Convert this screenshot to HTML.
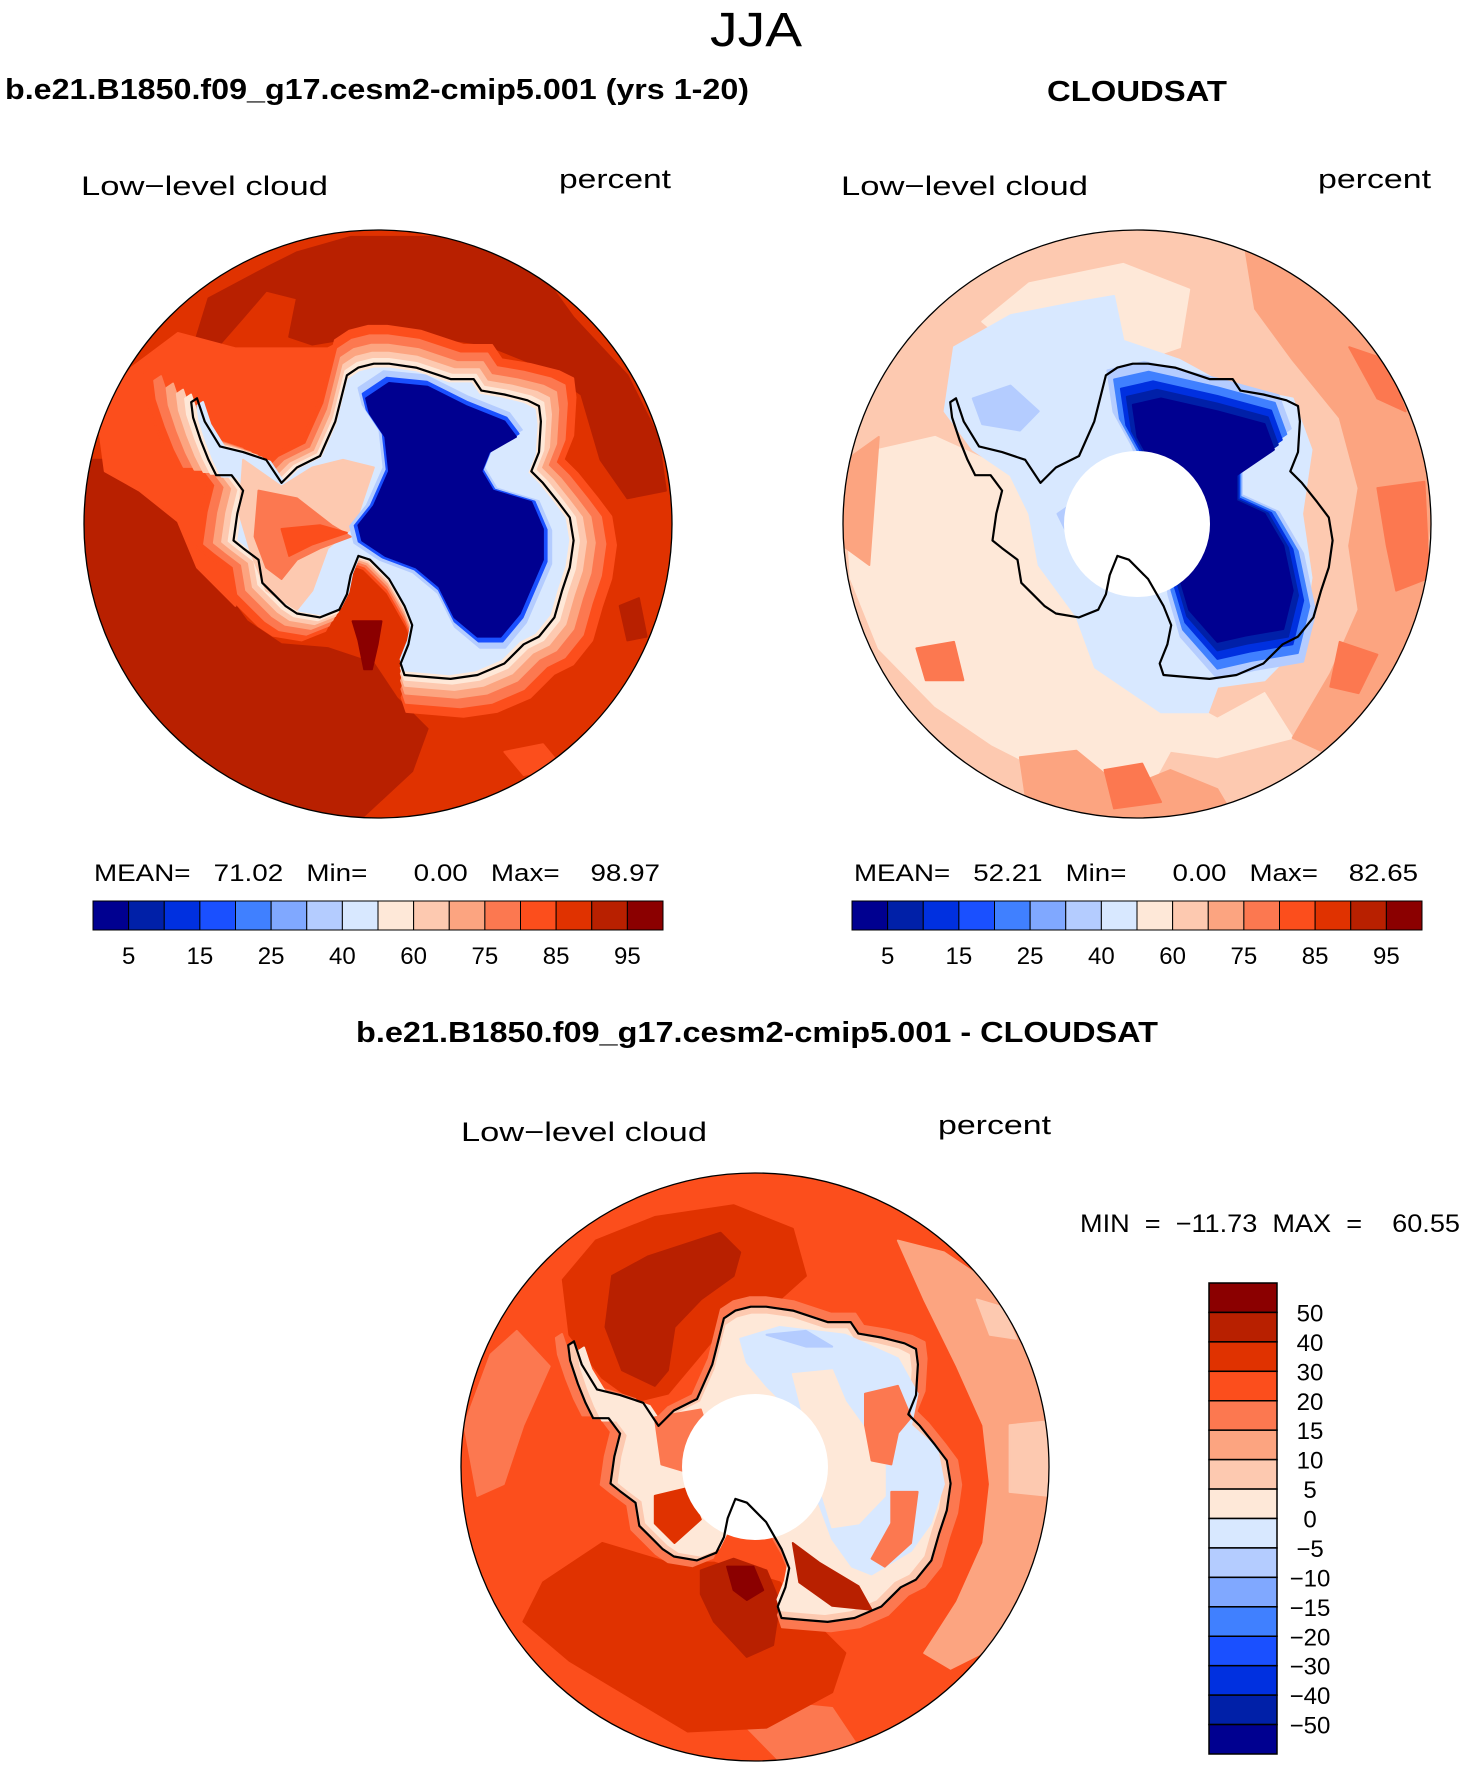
<!DOCTYPE html>
<html><head><meta charset="utf-8">
<style>
html,body{margin:0;padding:0;background:#fff;}
svg{display:block;}
text{font-family:"Liberation Sans",sans-serif;fill:#000;white-space:pre;}
</style></head>
<body>
<svg id="fig" width="1460" height="1765" viewBox="0 0 1460 1765" xmlns="http://www.w3.org/2000/svg" xml:space="preserve">
<text x="756" y="46" font-size="48" text-anchor="middle" textLength="92" lengthAdjust="spacingAndGlyphs" font-weight="normal">JJA</text>
<text x="5" y="99" font-size="29" font-weight="bold" textLength="744" lengthAdjust="spacingAndGlyphs">b.e21.B1850.f09_g17.cesm2-cmip5.001 (yrs 1-20)</text>
<text x="1137" y="101" font-size="29" font-weight="bold" text-anchor="middle" textLength="180" lengthAdjust="spacingAndGlyphs">CLOUDSAT</text>
<text x="757" y="1042" font-size="29" font-weight="bold" text-anchor="middle" textLength="802" lengthAdjust="spacingAndGlyphs">b.e21.B1850.f09_g17.cesm2-cmip5.001 - CLOUDSAT</text>

<text x="81" y="195" font-size="27" textLength="247" lengthAdjust="spacingAndGlyphs">Low−level cloud</text>
<text x="559" y="188" font-size="27" textLength="112" lengthAdjust="spacingAndGlyphs">percent</text>
<text x="841" y="195" font-size="27" textLength="247" lengthAdjust="spacingAndGlyphs">Low−level cloud</text>
<text x="1318" y="188" font-size="27" textLength="113" lengthAdjust="spacingAndGlyphs">percent</text>
<text x="461" y="1141" font-size="27" textLength="246" lengthAdjust="spacingAndGlyphs">Low−level cloud</text>
<text x="938" y="1134" font-size="27" textLength="113" lengthAdjust="spacingAndGlyphs">percent</text>

<text x="94" y="881" font-size="24" textLength="566" lengthAdjust="spacingAndGlyphs">MEAN=   71.02   Min=      0.00   Max=    98.97</text>
<text x="854" y="881" font-size="24" textLength="564" lengthAdjust="spacingAndGlyphs">MEAN=   52.21   Min=      0.00   Max=    82.65</text>
<text x="1080" y="1232" font-size="25" textLength="380" lengthAdjust="spacingAndGlyphs">MIN  =  −11.73  MAX  =    60.55</text>
<g id="layer"></g>
</svg>
<script>
// ---- colour bar data ----
const absColors = ['#000090','#0020a8','#0030e0','#1a50ff','#4080ff','#80a8ff','#b4ccff','#d8e8ff','#fee8d8','#fdc9b0','#fca480','#fc7850','#fc4e1c','#e03200','#b82000','#8b0000'];
const absLabels = ['5','15','25','40','60','75','85','95'];
const diffLabels = ['50','40','30','20','15','10','5','0','−5','−10','−15','−20','−30','−40','−50'];

const NS='http://www.w3.org/2000/svg';
const layer=document.getElementById('layer');
function mk(tag,attrs,parent){const e=document.createElementNS(NS,tag);for(const k in attrs)e.setAttribute(k,attrs[k]);(parent||layer).appendChild(e);return e;}

const maps=[
 {id:'map1',cx:378,cy:524,r:294,hole:false},
 {id:'map2',cx:1137,cy:524,r:294,hole:true},
 {id:'map3',cx:755,cy:1467,r:294,hole:true}
];
const FZ={cx:771,cy:787,rx:765,ry:765};
const F1={cx:1214.5,cy:816,rx:312.5,ry:459};
const F4={cx:482.5,cy:806.5,rx:447.5,ry:748.5};

const coastZ=[[300,460],[320,520],[360,585],[420,600],[480,620],[520,680],[560,640],[620,610],[660,520],[690,400],[720,380],[760,370],[800,370],[870,380],[960,410],[1020,410],[1040,440],[1100,450],[1160,465],[1190,480],[1195,520],[1190,600],[1170,650],[1200,680],[1240,730],[1270,770],[1280,830],[1270,900],[1250,960],[1230,1030],[1190,1080],[1150,1100],[1100,1150],[1030,1180],[960,1190],[900,1185],[840,1180],[830,1150],[850,1100],[860,1050],[840,1000],[800,930],[750,880],[720,870],[700,920],[690,970],[670,1010],[620,1030],[560,1020],[530,1000],[500,970],[470,940],[460,880],[420,850],[395,830],[405,760],[420,700],[390,660],[350,660],[330,620],[310,570],[290,510],[285,470]];

function scalePts(pts,s,c){return pts.map(p=>[c[0]+(p[0]-c[0])*s,c[1]+(p[1]-c[1])*s]);}
function toPx(pts,F,m){return pts.map(p=>[m.cx+(p[0]-F.cx)/F.rx*m.r, m.cy+(p[1]-F.cy)/F.ry*m.r]);}
function poly(g,pts,F,m,fill){
  const d=toPx(pts,F,m).map(p=>p[0].toFixed(1)+','+p[1].toFixed(1)).join(' ');
  const e=mk('polygon',{points:d,fill:fill,stroke:fill,'stroke-width':2,'stroke-linejoin':'round'},g);
  
  
  return e;
}
const C=absColors;
const CC=[820,780];
const coreZ=[[740,460],[800,420],[900,430],[1000,480],[1100,520],[1130,560],[1060,600],[1040,650],[1070,700],[1170,730],[1200,800],[1200,880],[1170,950],[1140,1020],[1090,1080],[1030,1080],[970,1030],[930,950],[870,900],[790,870],[730,830],[720,790],[760,740],[800,650],[790,560],[750,500]];
const core2=[[1210,630],[1240,620],[1300,640],[1350,660],[1360,700],[1320,740],[1320,780],[1350,800],[1370,850],[1380,920],[1370,980],[1330,990],[1300,1000],[1270,950],[1260,900],[1250,800],[1230,720],[1215,680]];

const layers={
 map1:[
  [FZ,[[290,330],[330,200],[480,120],[560,80],[700,40],[1000,40],[1200,140],[1280,250],[1420,400],[1500,560],[1520,700],[1420,720],[1350,620],[1300,450],[1200,380],[1050,320],[900,300],[780,290],[600,320],[540,300],[560,200],[480,180],[420,250],[350,330]],C[14]],
  [FZ,[[10,620],[120,620],[220,720],[280,830],[350,930],[430,1040],[520,1100],[640,1110],[760,1150],[820,1240],[900,1320],[860,1430],[720,1560],[500,1520],[300,1410],[150,1260],[30,1060],[5,850]],C[14]],
  [FZ,[[1400,1000],[1450,980],[1470,1080],[1420,1090]],C[14]],
  [FZ,[[40,500],[130,380],[250,290],[400,330],[560,330],[640,330],[700,300],[760,310],[700,400],[620,500],[560,610],[500,680],[420,760],[380,900],[400,1000],[300,900],[250,780],[150,700],[60,650]],C[12]],
  [FZ,[[1100,1380],[1200,1360],[1250,1420],[1150,1440]],C[12]],
  [FZ,scalePts(coastZ,1.24,CC),C[12]],
  [FZ,scalePts(coastZ,1.18,CC),C[11]],
  [FZ,scalePts(coastZ,1.12,CC),C[10]],
  [FZ,scalePts(coastZ,1.07,CC),C[9]],
  [FZ,scalePts(coastZ,1.03,CC),C[8]],
  [FZ,scalePts(coastZ,0.97,CC),C[7]],
  [FZ,[[420,620],[520,690],[600,640],[680,620],[760,640],[720,760],[700,800],[640,850],[600,960],[560,1010],[480,960],[440,860],[410,760]],C[9]],
  [FZ,[[460,700],[560,720],[650,790],[700,820],[620,850],[560,880],[520,930],[480,900],[450,820]],C[11]],
  [FZ,[[520,800],[620,790],[690,810],[600,840],[540,870]],C[12]],
  [FZ,[[705,1040],[780,1040],[770,1100],[755,1165],[735,1165],[720,1090]],C[15]],
  [FZ,scalePts(coreZ,1.09,[960,760]),C[6]],
  [FZ,scalePts(coreZ,1.04,[960,760]),C[3]],
  [FZ,coreZ,C[0]]
 ],
 map2:[
  [F1,[[905,760],[940,700],[1000,680],[1060,720],[1100,760],[1150,900],[1200,1000],[1250,1080],[1300,1120],[1350,1080],[1380,1150],[1300,1180],[1250,1170],[1220,1250],[1100,1190],[1060,1160],[1000,1100],[940,1010],[910,900]],C[8]],
  [F1,[[1050,500],[1100,440],[1200,410],[1270,450],[1260,540],[1200,570],[1100,560]],C[8]],
  [F1,[[1330,390],[1420,430],[1480,500],[1520,650],[1527,800],[1515,950],[1470,1100],[1410,1170],[1380,1150],[1420,1050],[1450,950],[1440,850],[1450,760],[1430,650],[1380,560],[1340,480]],C[10]],
  [F1,[[1090,1180],[1150,1170],[1200,1230],[1250,1200],[1300,1230],[1320,1280],[1100,1280]],C[10]],
  [F1,[[902,720],[940,680],[930,880],[902,850]],C[10]],
  [F1,[[1440,540],[1480,560],[1500,640],[1470,620]],C[11]],
  [F1,[[1470,760],[1520,750],[1525,900],[1490,920],[1480,850]],C[11]],
  [F1,[[1180,1200],[1220,1190],[1240,1250],[1190,1260]],C[11]],
  [F1,[[980,1010],[1020,1000],[1030,1060],[990,1060]],C[11]],
  [F1,[[1430,1000],[1470,1020],[1450,1080],[1420,1070]],C[11]],
  [F1,[[1020,540],[1080,490],[1150,470],[1190,460],[1200,530],[1260,560],[1310,600],[1380,620],[1400,700],[1390,800],[1400,900],[1390,1000],[1350,1060],[1300,1070],[1290,1110],[1240,1110],[1170,1040],[1150,960],[1110,880],[1100,800],[1080,740],[1040,700],[1010,640]],C[7]],
  [F1,[[1040,620],[1080,600],[1110,640],[1090,670],[1050,660]],C[6]],
  [F1,[[1130,800],[1150,780],[1170,820],[1150,860]],C[6]],
  [F1,scalePts(core2,1.3,[1300,810]),C[6]],
  [F1,scalePts(core2,1.22,[1300,810]),C[4]],
  [F1,scalePts(core2,1.14,[1300,810]),C[2]],
  [F1,scalePts(core2,1.07,[1300,810]),C[1]],
  [F1,core2,C[0]]
 ],
 map3:[
  [F4,[[700,230],[770,260],[850,350],[900,500],[930,700],[930,900],[900,1100],[840,1270],[780,1320],[740,1280],[790,1150],[830,1000],[840,850],[830,700],[790,550],[740,380]],C[10]],
  [F4,[[870,700],[930,690],[930,880],[870,870]],C[9]],
  [F4,[[820,380],[860,400],[880,480],[840,470]],C[9]],
  [F4,[[40,700],[80,520],[120,460],[170,550],[130,700],[100,850],[60,880]],C[11]],
  [F4,[[480,1400],[600,1420],[640,1520],[520,1555],[470,1470]],C[11]],
  [F4,[[190,330],[240,230],[330,170],[450,140],[540,200],[560,320],[520,380],[450,420],[400,520],[350,620],[300,640],[250,580],[200,470]],C[13]],
  [F4,[[265,320],[320,270],[430,210],[460,260],[450,320],[400,380],[360,450],[350,560],[330,600],[280,560],[255,450]],C[14]],
  [F4,[[160,1100],[250,1000],[350,1050],[420,1050],[520,1100],[560,1180],[620,1280],[600,1380],[500,1470],[380,1480],[280,1380],[200,1300],[130,1200]],C[13]],
  [F4,[[400,1070],[450,1040],[500,1070],[520,1150],[510,1260],[470,1290],[420,1200],[400,1130]],C[14]],
  [F4,[[440,1060],[480,1060],[495,1120],[470,1145],[450,1120]],C[15]],
  [FZ,scalePts(coastZ,1.06,CC),C[11]],
  [FZ,scalePts(coastZ,1.0,CC),C[9]],
  [FZ,scalePts(coastZ,0.95,CC),C[8]],
  [F4,[[460,480],[520,450],[620,470],[700,530],[730,620],[720,700],[760,760],[770,850],[750,950],[720,1020],[660,1080],[630,1060],[600,990],[580,900],[560,700],[500,600],[470,540]],C[7]],
  [F4,[[500,470],[560,460],[600,500],[560,500]],C[6]],
  [F4,[[540,570],[600,560],[620,640],[680,780],[680,880],[640,950],[600,960],[580,850],[560,700]],C[8]],
  [F4,[[650,620],[700,600],[720,680],[700,720],[690,800],[660,790],[650,700]],C[11]],
  [F4,[[690,870],[730,870],[720,1000],[680,1060],[660,1040],[690,950]],C[11]],
  [F4,[[330,680],[400,660],[420,760],[380,820],[340,800]],C[11]],
  [F4,[[330,880],[380,860],[400,940],[360,1000],[330,950]],C[13]],
  [F4,[[540,1000],[580,1050],[640,1110],[660,1170],[600,1160],[550,1100]],C[14]]
 ]
};
const bases={map1:C[13],map2:C[9],map3:C[12]};

maps.forEach((m,i)=>{
  const g=mk('g',{});
  
  
  const cp=mk('clipPath',{id:'clip'+i},g);
  mk('circle',{cx:m.cx,cy:m.cy,r:m.r},cp);
  const inner=mk('g',{'clip-path':'url(#clip'+i+')'},g);
  const bg=mk('circle',{cx:m.cx,cy:m.cy,r:m.r,fill:bases[m.id]},inner);
  
  
  layers[m.id].forEach(L=>poly(inner,L[1],L[0],m,L[2]));
  if(m.hole){
    const h=mk('circle',{cx:m.cx,cy:m.cy,r:73,fill:'#fff'},inner);
    
    
  }
  const d=toPx(coastZ,FZ,m).map(p=>p[0].toFixed(1)+','+p[1].toFixed(1)).join(' ');
  const cl=mk('polygon',{points:d,fill:'none',stroke:'#000','stroke-width':2.2,'stroke-linejoin':'round'},inner);
  
  
  const bd=mk('circle',{cx:m.cx,cy:m.cy,r:m.r,fill:'none',stroke:'#000','stroke-width':1.3},g);
  
  
});

function hbar(x0,x1,y0,y1,name){
  const g=mk('g',{});
  
  
  const w=(x1-x0)/absColors.length;
  absColors.forEach((c,i)=>{
    const r=mk('rect',{x:x0+i*w,y:y0,width:w,height:y1-y0,fill:c,stroke:'#000','stroke-width':1},g);
    
    
  });
  absLabels.forEach((t,i)=>{
    const tx=mk('text',{x:x0+(2*i+1)*w,y:y1+34,'font-size':24,'text-anchor':'middle'},g);
    tx.textContent=t;
    
    
  });
}
hbar(93,663,901,930,'map1-colorbar');
hbar(852,1422,901,930,'map2-colorbar');

(function(){
  const g=mk('g',{});
  
  
  const x0=1209,x1=1277,y0=1283,y1=1754,n=absColors.length,h=(y1-y0)/n;
  for(let i=0;i<n;i++){
    const r=mk('rect',{x:x0,y:y0+i*h,width:x1-x0,height:h,fill:absColors[n-1-i],stroke:'#000','stroke-width':1.5},g);
    
    
  }
  diffLabels.forEach((t,i)=>{
    const tx=mk('text',{x:1310,y:y0+(i+1)*h+9,'font-size':24,'text-anchor':'middle'},g);
    tx.textContent=t;
    
    
  });
})();
</script>
</body></html>
